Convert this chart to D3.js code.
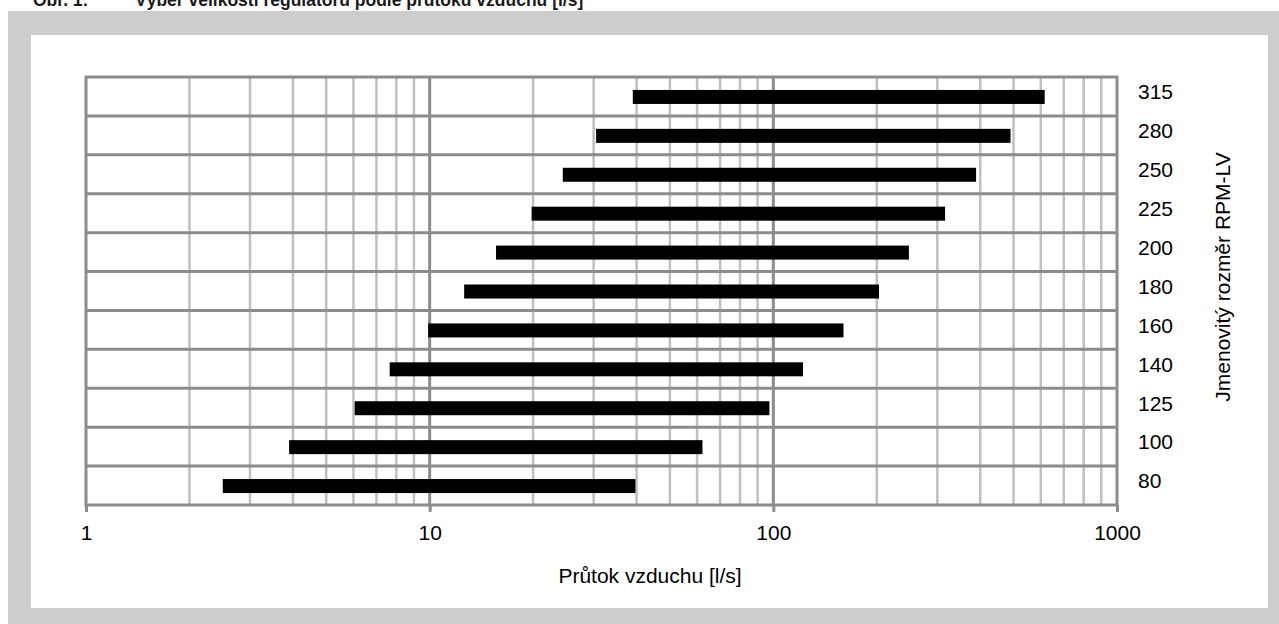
<!DOCTYPE html>
<html><head><meta charset="utf-8">
<script src="https://cdn.jsdelivr.net/npm/d3@7/dist/d3.min.js"></script>
<style>body{margin:0;background:#fff;} svg{display:block;font-family:Arial,"Liberation Sans",sans-serif;}</style>
</head><body>
<svg id="c" width="1279" height="624"></svg>
<script>
// Data
const sizes = ["315","280","250","225","200","180","160","140","125","100","80"];
const flowMin = [39, 30.5, 24.4, 19.8, 15.6, 12.6, 9.9, 7.65, 6.05, 3.9, 2.5];
const flowMax = [616, 490, 389, 316, 248, 203, 160, 122, 97.4, 62.2, 39.7];
const xTicks = [1, 10, 100, 1000];
const xTitle = "Průtok vzduchu [l/s]";
const yTitle = "Jmenovitý rozměr RPM-LV";
const titleA = "Obr. 1:";
const titleB = "Výběr velikosti regulátorů podle průtoku vzduchu [l/s]";

const FF = "Arial, 'Liberation Sans', sans-serif";
const svg = d3.select("#c");
// frame
svg.append("rect").attr("x",8).attr("y",11).attr("width",1290).attr("height",640).attr("fill","#cccccc");
svg.append("rect").attr("x",31).attr("y",35).attr("width",1237).attr("height",573).attr("fill","#ffffff");
// title (clipped at top, as in the reference)
const t = svg.append("text").attr("x",33).attr("y",6).attr("font-size",17.5).attr("font-weight","bold").attr("fill","#1a1a1a");
t.append("tspan").text(titleA);
t.append("tspan").attr("x",135).text(titleB);

const L=86, R=1117, T=77, B=505;
const x = d3.scaleLog().domain([1,1000]).range([L,R]);
const y = d3.scaleBand().domain(sizes).range([T,B]).padding(0);

// minor vertical grid
const minors = [];
[1,10,100].forEach(d => { for (let k=2;k<=9;k++) minors.push(d*k); });
svg.append("g").selectAll("line").data(minors).join("line")
  .attr("x1",d=>x(d)).attr("x2",d=>x(d)).attr("y1",T).attr("y2",B)
  .attr("stroke","#c0c0c0").attr("stroke-width",2.5);
// horizontal grid
svg.append("g").selectAll("line").data(sizes.slice(1)).join("line")
  .attr("x1",L).attr("x2",R).attr("y1",d=>y(d)).attr("y2",d=>y(d))
  .attr("stroke","#8c8c8c").attr("stroke-width",3);
// major vertical grid
svg.append("g").selectAll("line").data([10,100]).join("line")
  .attr("x1",d=>x(d)).attr("x2",d=>x(d)).attr("y1",T).attr("y2",B)
  .attr("stroke","#8c8c8c").attr("stroke-width",3);
// border
svg.append("rect").attr("x",L).attr("y",T).attr("width",R-L).attr("height",B-T)
  .attr("fill","none").attr("stroke","#8c8c8c").attr("stroke-width",3);

// bars
const bh = 14;
svg.append("g").selectAll("rect").data(sizes).join("rect")
  .attr("x",(d,i)=>x(flowMin[i]))
  .attr("width",(d,i)=>x(flowMax[i])-x(flowMin[i]))
  .attr("y",d=>y(d)+y.bandwidth()/2-bh/2+0.5)
  .attr("height",bh).attr("fill","#000");

// x axis
const xa = svg.append("g").attr("transform",`translate(0,${B})`)
  .call(d3.axisBottom(x).tickValues(xTicks).tickFormat(d3.format("d")).tickSize(7).tickPadding(13));
xa.select(".domain").remove();
xa.selectAll(".tick line").attr("stroke","#8c8c8c").attr("stroke-width",3);
xa.selectAll(".tick text").attr("font-size",21).attr("fill","#000").attr("font-family",FF);

// right axis
const ya = svg.append("g").attr("transform",`translate(${R},0)`)
  .call(d3.axisRight(y).tickSize(0).tickPadding(21));
ya.select(".domain").remove();
ya.selectAll(".tick text").attr("font-size",21).attr("fill","#000").attr("dy",null).attr("y",2.8)
  .attr("font-family",FF);

// titles
svg.append("text").attr("x",650).attr("y",583).attr("text-anchor","middle").attr("font-size",21).attr("fill","#000").text(xTitle);
svg.append("text").attr("transform","translate(1230,277) rotate(-90)").attr("text-anchor","middle")
  .attr("font-size",21).attr("fill","#000").text(yTitle);
</script>
</body></html>
